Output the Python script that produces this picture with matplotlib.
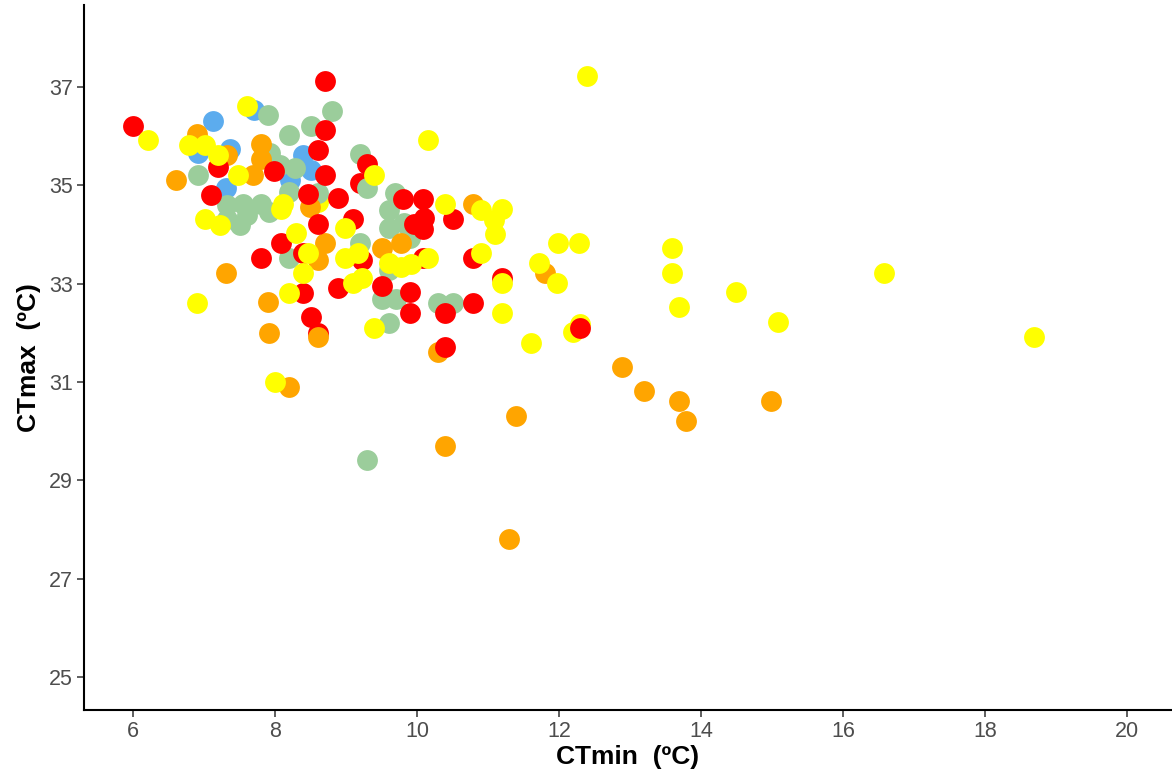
import matplotlib
matplotlib.use("Agg")
import matplotlib.pyplot as plt

plt.rcParams['font.family'] = ['Liberation Sans', 'DejaVu Sans']

# Data (CTmin, CTmax) per group
blue_x = [7.13, 7.70, 6.91, 7.36, 8.40, 8.50, 8.21, 7.31]
blue_y = [36.32, 36.53, 35.65, 35.75, 35.62, 35.31, 35.11, 34.94]

green_x = [7.90, 8.80, 8.20, 8.50, 7.93, 8.07, 8.28, 6.91, 9.20, 9.29, 8.19, 8.61,
           7.32, 7.55, 7.33, 7.51, 7.60, 7.80, 7.91, 9.69, 9.60, 9.60, 9.81, 9.90,
           9.20, 9.60, 8.19, 9.50, 9.70, 9.60, 10.30, 10.50, 9.30]
green_y = [36.43, 36.52, 36.02, 36.21, 35.65, 35.41, 35.35, 35.21, 35.63, 34.94, 34.87, 34.84,
           34.60, 34.63, 34.32, 34.19, 34.40, 34.63, 34.46, 34.84, 34.50, 34.13, 34.23, 33.93,
           33.82, 33.28, 33.52, 32.70, 32.70, 32.21, 32.61, 32.61, 29.41]

red_x = [6.00, 8.70, 8.70, 8.60, 7.20, 7.99, 8.70, 9.29, 9.19, 7.10, 8.47, 8.89,
         9.80, 10.09, 8.60, 9.10, 10.10, 10.50, 10.08, 9.95, 8.09, 7.80, 8.40, 9.22,
         10.09, 10.79, 11.19, 8.89, 9.50, 8.40, 9.90, 9.90, 8.50, 8.60, 10.40, 10.79,
         10.40, 12.30]
red_y = [36.21, 37.12, 36.12, 35.72, 35.38, 35.29, 35.22, 35.43, 35.04, 34.80, 34.82, 34.74,
         34.73, 34.72, 34.22, 34.32, 34.33, 34.32, 34.12, 34.22, 33.82, 33.53, 33.62, 33.48,
         33.53, 33.52, 33.12, 32.91, 32.96, 32.82, 32.83, 32.40, 32.32, 32.00, 32.40, 32.61,
         31.72, 32.11]

orange_x = [6.90, 7.32, 7.80, 7.80, 7.69, 6.61, 8.49, 8.70, 8.61, 9.50, 9.78, 7.31,
            7.90, 7.91, 8.60, 8.20, 10.79, 11.80, 10.30, 12.89, 13.20, 13.69, 13.79,
            14.99, 11.39, 10.39, 11.30]
orange_y = [36.04, 35.62, 35.84, 35.54, 35.21, 35.11, 34.57, 33.82, 33.48, 33.72, 33.82, 33.21,
            32.63, 32.00, 31.91, 30.91, 34.62, 33.21, 31.62, 31.31, 30.82, 30.61, 30.21,
            30.61, 30.31, 29.70, 27.81]

yellow_x = [6.21, 7.60, 6.79, 7.01, 7.20, 7.48, 9.39, 10.16, 8.11, 8.61, 7.01, 7.22,
            8.09, 8.30, 8.99, 8.47, 9.17, 8.99, 8.40, 6.90, 8.19, 9.60, 9.78, 9.92,
            10.16, 9.22, 9.10, 9.40, 8.00, 10.39, 10.90, 11.19, 11.08, 11.10, 10.90,
            11.19, 11.19, 11.71, 11.99, 11.97, 11.60, 12.19, 12.30, 12.39, 12.28, 13.59,
            13.59, 13.69, 14.49, 15.08, 16.58, 18.68]
yellow_y = [35.92, 36.62, 35.82, 35.82, 35.62, 35.21, 35.22, 35.92, 34.63, 34.66, 34.32, 34.19,
            34.52, 34.03, 34.13, 33.62, 33.62, 33.52, 33.21, 32.61, 32.81, 33.42, 33.35, 33.40,
            33.52, 33.11, 33.01, 32.11, 31.01, 34.62, 34.51, 34.53, 34.30, 34.01, 33.62,
            33.01, 32.41, 33.42, 33.83, 33.01, 31.80, 32.02, 32.18, 37.22, 33.83, 33.73,
            33.21, 32.53, 32.83, 32.22, 33.21, 31.92]

x_ticks = [6, 8, 10, 12, 14, 16, 18, 20]
y_ticks = [25, 27, 29, 31, 33, 35, 37]

# drawing order exceptions (indices into the series above)
yellow_under = [9]          # drawn below the other groups
red_over = [37]             # drawn above yellow
orange_over = [14]          # drawn above red
green_over = [9]            # drawn above red


def pick(xs, ys, idx, keep=True):
    sel = [i for i in range(len(xs)) if (i in idx) == keep]
    return [xs[i] for i in sel], [ys[i] for i in sel]


fig = plt.figure(figsize=(11.72, 7.75), dpi=100)
ax = fig.add_axes([84/1172, 1 - 710/775, 1 - 84/1172, (710 - 5)/775])

S = 225
kw = dict(s=S, linewidths=0)
C_BLUE, C_GREEN, C_RED, C_ORANGE, C_YELLOW = '#5CACEE', '#9BCD9B', '#FF0000', '#FFA500', '#FFFF00'

ax.scatter(*pick(yellow_x, yellow_y, yellow_under), color=C_YELLOW, **kw)
ax.scatter(blue_x, blue_y, color=C_BLUE, **kw)
ax.scatter(*pick(green_x, green_y, green_over, False), color=C_GREEN, **kw)
ax.scatter(*pick(orange_x, orange_y, orange_over, False), color=C_ORANGE, **kw)
ax.scatter(*pick(red_x, red_y, red_over, False), color=C_RED, **kw)
ax.scatter(*pick(green_x, green_y, green_over), color=C_GREEN, **kw)
ax.scatter(*pick(orange_x, orange_y, orange_over), color=C_ORANGE, **kw)
ax.scatter(*pick(yellow_x, yellow_y, yellow_under, False), color=C_YELLOW, **kw)
ax.scatter(*pick(red_x, red_y, red_over), color=C_RED, **kw)

ax.set_xlim(5.31, 20.63)
ax.set_ylim(24.33, 38.67)
ax.set_xticks(x_ticks)
ax.set_yticks(y_ticks)

for side in ['top', 'right']:
    ax.spines[side].set_visible(False)
for side in ['left', 'bottom']:
    ax.spines[side].set_linewidth(1.5)
    ax.spines[side].set_color('black')

ax.tick_params(axis='both', length=5, width=1.1, color='#333333',
               labelcolor='#4D4D4D', labelsize=15.5, pad=3)

ax.set_xlabel('CTmin  (ºC)', fontsize=19, fontweight='bold', color='black', labelpad=2)
ax.set_ylabel('CTmax  (ºC)', fontsize=19, fontweight='bold', color='black', labelpad=6)

fig.savefig('out.png', dpi=100)
